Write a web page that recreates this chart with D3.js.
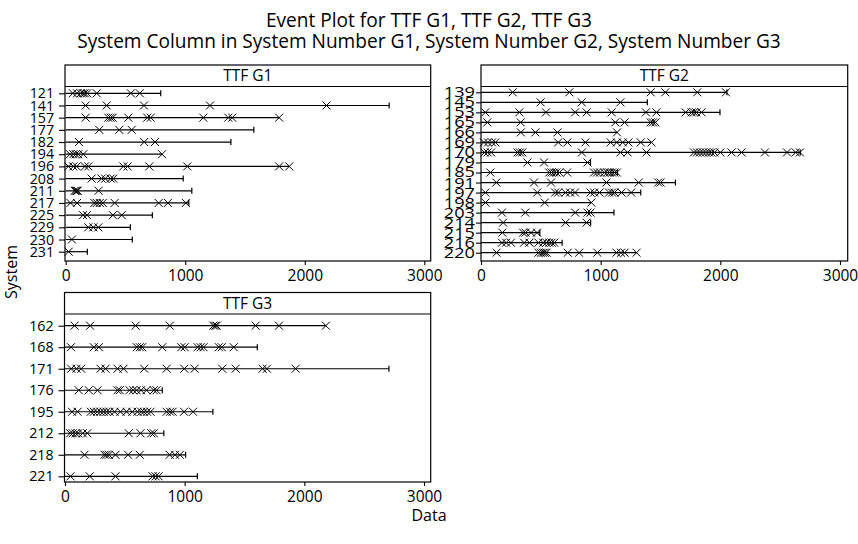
<!DOCTYPE html>
<html>
<head>
<meta charset="utf-8">
<script src="https://cdn.jsdelivr.net/npm/d3@7"></script>
<style>
  body { margin: 0; background: #fff; }
  svg { display: block; }
  text { font-family: "Open Sans", sans-serif; fill: #000; }
</style>
</head>
<body>
<svg id="chart" width="858" height="544"></svg>
<script>
// ---- chart text ----
const titleLines = [
  "Event Plot for TTF G1, TTF G2, TTF G3",
  "System Column in System Number G1, System Number G2, System Number G3"
];
const xAxisTitle = "Data";
const yAxisTitle = "System";
const xTicks = [0, 1000, 2000, 3000];

// ---- TTF G1: event times per system and end of observation ----
const g1Systems = ["121","141","157","177","182","194","196","208","211","217","225","229","230","231"];
const g1Times = [
  [60, 95, 125, 145, 160, 180, 260, 545, 620],
  [167, 343, 655, 1207, 2182],
  [167, 356, 376, 393, 524, 682, 711, 1151, 1360, 1393, 1786],
  [281, 448, 552],
  [111, 657, 747],
  [36, 64, 84, 105, 147, 806],
  [22, 64, 92, 161, 189, 482, 518, 699, 1017, 1786, 1870],
  [217, 300, 330, 376, 398],
  [75, 85, 95, 100, 275],
  [40, 95, 240, 260, 285, 310, 410, 778, 855, 1005],
  [145, 178, 395, 468],
  [189, 231, 273],
  [52],
  [25]
];
const g1Ends = [795, 2706, 1786, 1574, 1382, 806, 1870, 983, 1055, 1030, 725, 541, 557, 181];

// ---- TTF G2 ----
const g2Systems = ["139","145","153","165","166","169","170","179","185","191","197","198","203","214","215","216","220"];
const g2Times = [
  [265, 738, 1418, 1540, 1807, 2047],
  [498, 842, 1165],
  [36, 320, 543, 787, 883, 1092, 1378, 1466, 1710, 1760, 1780, 1800, 1843],
  [53, 332, 1122, 1200, 1418, 1437, 1458],
  [333, 455, 639, 1137],
  [25, 58, 92, 120, 645, 722, 872, 1084, 1135, 1185, 1232, 1335, 1425],
  [30, 55, 85, 305, 325, 345, 843, 1165, 1225, 1383, 1780, 1805, 1830, 1855, 1880, 1905, 1925, 1950, 2000, 2094, 2178, 2373, 2557, 2630, 2665],
  [388, 527, 890],
  [78, 570, 590, 610, 630, 655, 720, 945, 970, 995, 1030, 1055, 1075, 1095, 1115, 1135],
  [128, 443, 585, 1048, 1318, 1481, 1501],
  [36, 470, 620, 645, 705, 745, 785, 915, 945, 990, 1070, 1095, 1115, 1175, 1255],
  [37, 533, 922],
  [175, 370, 787, 890, 915],
  [185, 707, 882],
  [178, 352, 372, 418, 468],
  [175, 210, 250, 360, 405, 480, 520, 546, 570, 590, 612],
  [130, 480, 500, 518, 533, 548, 725, 820, 972, 1132, 1170, 1200, 1300]
];
const g2Ends = [2055, 1390, 1997, 1458, 1137, 1425, 2668, 915, 1140, 1625, 1335, 922, 1111, 916, 492, 678, 1300];

// ---- TTF G3 ----
const g3Systems = ["162","168","171","176","195","212","218","221"];
const g3Times = [
  [80, 210, 590, 876, 1240, 1255, 1268, 1593, 1788, 2180],
  [50, 241, 283, 600, 625, 645, 813, 972, 1000, 1108, 1133, 1158, 1286, 1310, 1410],
  [52, 96, 135, 297, 339, 439, 489, 662, 849, 997, 1083, 1314, 1426, 1651, 1687, 1927],
  [115, 199, 272, 439, 458, 539, 569, 598, 635, 681, 742, 765],
  [59, 105, 216, 241, 269, 297, 322, 347, 372, 414, 464, 514, 562, 606, 637, 659, 686, 715, 849, 878, 899, 995, 1070],
  [43, 64, 88, 109, 148, 186, 533, 631, 721, 742],
  [163, 330, 347, 366, 422, 527, 625, 874, 920, 960],
  [46, 207, 422, 732, 757, 782]
];
const g3Ends = [2180, 1607, 2707, 813, 1236, 826, 1008, 1106];

// ---- panel layout ----
const panels = [
  { name: "TTF G1", systems: g1Systems, times: g1Times, ends: g1Ends,
    left: 65, right: 430.7, top: 65, head: 86.5, bottom: 261,
    xRange: [65.7, 424.3], yRange: [93.3, 251.7],
    labelSize: 14.2, labelStretch: 1, tickLen: 6, tickPad: 5 },
  { name: "TTF G2", systems: g2Systems, times: g2Times, ends: g2Ends,
    left: 481, right: 847.7, top: 65, head: 86.5, bottom: 261,
    xRange: [481, 840], yRange: [92.3, 252.7],
    labelSize: 14, labelStretch: 1.3, tickLen: 5, tickPad: 1 },
  { name: "TTF G3", systems: g3Systems, times: g3Times, ends: g3Ends,
    left: 64.5, right: 430.7, top: 292.5, head: 314, bottom: 482,
    xRange: [65, 424], yRange: [325.7, 476.3],
    labelSize: 14.2, labelStretch: 1, tickLen: 6, tickPad: 5 }
];

const svg = d3.select("#chart");
svg.append("rect").attr("width", 858).attr("height", 544).attr("fill", "#fff");

// Titles, sized so the subtitle spans its intended width
const t1 = svg.append("text").attr("x", 429).attr("y", 27).attr("text-anchor", "middle")
  .attr("font-size", 16).text(titleLines[0]);
const t2 = svg.append("text").attr("x", 429).attr("y", 48).attr("text-anchor", "middle")
  .attr("font-size", 16).text(titleLines[1]);
const fitSize = 16 * 704 / t2.node().getComputedTextLength();
t1.attr("font-size", fitSize);
t2.attr("font-size", fitSize);

svg.append("text").attr("x", 429).attr("y", 521).attr("text-anchor", "middle")
  .attr("font-size", 16).text(xAxisTitle);
svg.append("text").attr("transform", "translate(17,272) rotate(-90)")
  .attr("text-anchor", "middle").attr("font-size", 16).text(yAxisTitle);

// "x" marker drawn around each event time
const half = 4;
const crossPath = `M${-half},${-half}L${half},${half}M${-half},${half}L${half},${-half}`;

panels.forEach(p => {
  const g = svg.append("g");
  const x = d3.scaleLinear().domain([0, 3000]).range(p.xRange);
  const y = d3.scalePoint().domain(p.systems).range(p.yRange);

  // frame and strip header
  g.append("rect").attr("x", p.left).attr("y", p.top)
    .attr("width", p.right - p.left).attr("height", p.bottom - p.top)
    .attr("fill", "none").attr("stroke", "#000").attr("stroke-width", 1.2);
  g.append("line").attr("x1", p.left).attr("x2", p.right)
    .attr("y1", p.head).attr("y2", p.head).attr("stroke", "#000").attr("stroke-width", 1.2);
  g.append("text").attr("x", (p.left + p.right) / 2).attr("y", p.head - 5.5)
    .attr("text-anchor", "middle").attr("font-size", 15.5).text(p.name);

  // x axis
  const xa = g.append("g").attr("transform", `translate(0,${p.bottom})`)
    .call(d3.axisBottom(x).tickValues(xTicks).tickFormat(d3.format("d")).tickSize(4).tickPadding(5));
  xa.select(".domain").remove();
  xa.selectAll("text").attr("font-size", 15.5).attr("font-family", "Open Sans, sans-serif");
  xa.selectAll("line").attr("stroke", "#000").attr("stroke-width", 1.1);

  // y axis
  const ya = g.append("g").attr("transform", `translate(${p.left},0)`)
    .call(d3.axisLeft(y).tickSize(p.tickLen).tickPadding(p.tickPad));
  ya.select(".domain").remove();
  ya.selectAll("line").attr("stroke", "#000").attr("stroke-width", 1.1);
  ya.selectAll("text").attr("font-size", p.labelSize).attr("font-family", "Open Sans, sans-serif")
    .attr("x", -(p.tickLen + p.tickPad) / p.labelStretch)
    .attr("transform", `scale(${p.labelStretch},1)`);

  // observation lines, censoring ticks and event markers
  p.systems.forEach((s, i) => {
    const yy = y(s);
    const ev = p.times[i];
    const end = p.ends[i];
    g.append("line").attr("x1", x(0)).attr("x2", x(end)).attr("y1", yy).attr("y2", yy)
      .attr("stroke", "#000").attr("stroke-width", 1.2);
    if (end > d3.max(ev) + 1) {
      g.append("line").attr("x1", x(end)).attr("x2", x(end)).attr("y1", yy - 3).attr("y2", yy + 3)
        .attr("stroke", "#000").attr("stroke-width", 1.2);
    }
    g.selectAll(null).data(ev).enter().append("path")
      .attr("d", crossPath)
      .attr("transform", d => `translate(${x(d)},${yy})`)
      .attr("fill", "none").attr("stroke", "#000").attr("stroke-width", 1);
  });
});
</script>
</body>
</html>
